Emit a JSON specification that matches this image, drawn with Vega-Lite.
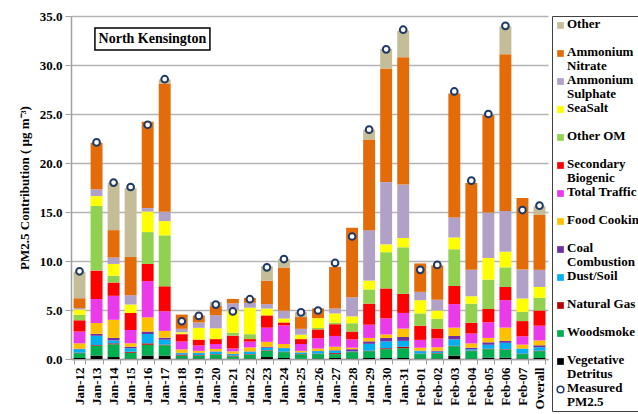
{
  "$schema": "https://vega.github.io/schema/vega-lite/v6.json",
  "width": 477,
  "height": 343,
  "autosize": "none",
  "padding": {"left": 71, "top": 16, "right": 90, "bottom": 55},
  "background": "white",
  "config": {
    "font": "Liberation Serif",
    "view": {"stroke": null},
    "axis": {"labelFont": "Liberation Serif", "titleFont": "Liberation Serif", "labelFontWeight": "bold", "titleFontWeight": "bold", "labelColor": "black", "titleColor": "black", "labelFontSize": 13, "titleFontSize": 13, "domainColor": "#A0A0A0", "tickColor": "#A0A0A0", "gridColor": "#B4B4B4", "gridWidth": 1.5}
  },
  "data": {"values": [
    {"date": "Jan-12", "Vegetative Detritus": 0.1, "Woodsmoke": 0.5, "Natural Gas": 0.05, "Dust/Soil": 0.35, "Coal Combustion": 0.05, "Food Cooking": 0.55, "Total Traffic": 1.2, "Secondary Biogenic": 1.15, "Other OM": 0.55, "SeaSalt": 0.55, "Ammonium Sulphate": 0.15, "Ammonium Nitrate": 1.0, "Other": 2.7, "Measured": 8.95},
    {"date": "Jan-13", "Vegetative Detritus": 0.35, "Woodsmoke": 1.0, "Natural Gas": 0.07, "Dust/Soil": 0.95, "Coal Combustion": 0.2, "Food Cooking": 1.1, "Total Traffic": 2.45, "Secondary Biogenic": 2.9, "Other OM": 6.6, "SeaSalt": 1.0, "Ammonium Sulphate": 0.7, "Ammonium Nitrate": 4.75, "Other": 0, "Measured": 22.1},
    {"date": "Jan-14", "Vegetative Detritus": 0.2, "Woodsmoke": 1.3, "Natural Gas": 0.1, "Dust/Soil": 0.3, "Coal Combustion": 0.25, "Food Cooking": 1.85, "Total Traffic": 2.45, "Secondary Biogenic": 1.35, "Other OM": 0.7, "SeaSalt": 1.2, "Ammonium Sulphate": 0.65, "Ammonium Nitrate": 2.8, "Other": 4.85, "Measured": 18.0},
    {"date": "Jan-15", "Vegetative Detritus": 0.05, "Woodsmoke": 0.6, "Natural Gas": 0.1, "Dust/Soil": 0.35, "Coal Combustion": 0.15, "Food Cooking": 0.35, "Total Traffic": 1.35, "Secondary Biogenic": 1.75, "Other OM": 0, "SeaSalt": 0.85, "Ammonium Sulphate": 0.95, "Ammonium Nitrate": 3.9, "Other": 7.05, "Measured": 17.55},
    {"date": "Jan-16", "Vegetative Detritus": 0.35, "Woodsmoke": 1.1, "Natural Gas": 0.15, "Dust/Soil": 0.95, "Coal Combustion": 0.25, "Food Cooking": 1.45, "Total Traffic": 3.7, "Secondary Biogenic": 1.75, "Other OM": 3.25, "SeaSalt": 2.1, "Ammonium Sulphate": 0.35, "Ammonium Nitrate": 8.8, "Other": 0, "Measured": 23.9},
    {"date": "Jan-17", "Vegetative Detritus": 0.35, "Woodsmoke": 1.05, "Natural Gas": 0.07, "Dust/Soil": 0.5, "Coal Combustion": 0.2, "Food Cooking": 0.7, "Total Traffic": 2.0, "Secondary Biogenic": 2.55, "Other OM": 5.2, "SeaSalt": 1.45, "Ammonium Sulphate": 0.95, "Ammonium Nitrate": 13.1, "Other": 0.4, "Measured": 28.55},
    {"date": "Jan-18", "Vegetative Detritus": 0.05, "Woodsmoke": 0.3, "Natural Gas": 0.1, "Dust/Soil": 0.15, "Coal Combustion": 0.03, "Food Cooking": 0.35, "Total Traffic": 0.8, "Secondary Biogenic": 0.75, "Other OM": 0.05, "SeaSalt": 0.15, "Ammonium Sulphate": 0.35, "Ammonium Nitrate": 1.45, "Other": 0, "Measured": 3.85},
    {"date": "Jan-19", "Vegetative Detritus": 0.05, "Woodsmoke": 0.3, "Natural Gas": 0.05, "Dust/Soil": 0.2, "Coal Combustion": 0.03, "Food Cooking": 0.2, "Total Traffic": 0.55, "Secondary Biogenic": 0.6, "Other OM": 0, "SeaSalt": 1.2, "Ammonium Sulphate": 0.55, "Ammonium Nitrate": 0.7, "Other": 0, "Measured": 4.4},
    {"date": "Jan-20", "Vegetative Detritus": 0.05, "Woodsmoke": 0.4, "Natural Gas": 0.05, "Dust/Soil": 0.25, "Coal Combustion": 0.03, "Food Cooking": 0.25, "Total Traffic": 0.5, "Secondary Biogenic": 0.5, "Other OM": 0, "SeaSalt": 1.1, "Ammonium Sulphate": 1.35, "Ammonium Nitrate": 0.95, "Other": 0.4, "Measured": 5.55},
    {"date": "Jan-21", "Vegetative Detritus": 0.03, "Woodsmoke": 0.25, "Natural Gas": 0.07, "Dust/Soil": 0.15, "Coal Combustion": 0.03, "Food Cooking": 0.25, "Total Traffic": 0.3, "Secondary Biogenic": 1.3, "Other OM": 0.3, "SeaSalt": 2.3, "Ammonium Sulphate": 0.7, "Ammonium Nitrate": 0.45, "Other": 0, "Measured": 4.85},
    {"date": "Jan-22", "Vegetative Detritus": 0.05, "Woodsmoke": 0.4, "Natural Gas": 0.05, "Dust/Soil": 0.25, "Coal Combustion": 0.03, "Food Cooking": 0.4, "Total Traffic": 0.6, "Secondary Biogenic": 0.25, "Other OM": 0.5, "SeaSalt": 2.7, "Ammonium Sulphate": 0.5, "Ammonium Nitrate": 0.5, "Other": 0, "Measured": 6.1},
    {"date": "Jan-23", "Vegetative Detritus": 0.2, "Woodsmoke": 0.65, "Natural Gas": 0.05, "Dust/Soil": 0.25, "Coal Combustion": 0.1, "Food Cooking": 0.5, "Total Traffic": 1.45, "Secondary Biogenic": 1.25, "Other OM": 0, "SeaSalt": 0.7, "Ammonium Sulphate": 0.45, "Ammonium Nitrate": 2.4, "Other": 1.45, "Measured": 9.35},
    {"date": "Jan-24", "Vegetative Detritus": 0.1, "Woodsmoke": 0.6, "Natural Gas": 0.05, "Dust/Soil": 0.35, "Coal Combustion": 0.03, "Food Cooking": 0.4, "Total Traffic": 1.9, "Secondary Biogenic": 0.3, "Other OM": 0, "SeaSalt": 0.4, "Ammonium Sulphate": 0.8, "Ammonium Nitrate": 4.4, "Other": 0.85, "Measured": 10.2},
    {"date": "Jan-25", "Vegetative Detritus": 0.03, "Woodsmoke": 0.45, "Natural Gas": 0.03, "Dust/Soil": 0.15, "Coal Combustion": 0.02, "Food Cooking": 0.15, "Total Traffic": 0.7, "Secondary Biogenic": 0.5, "Other OM": 0, "SeaSalt": 0.45, "Ammonium Sulphate": 0.6, "Ammonium Nitrate": 1.2, "Other": 0.5, "Measured": 4.75},
    {"date": "Jan-26", "Vegetative Detritus": 0.05, "Woodsmoke": 0.45, "Natural Gas": 0.05, "Dust/Soil": 0.25, "Coal Combustion": 0.02, "Food Cooking": 0.25, "Total Traffic": 1.05, "Secondary Biogenic": 0.9, "Other OM": 0.15, "SeaSalt": 1.0, "Ammonium Sulphate": 0, "Ammonium Nitrate": 1.0, "Other": 0, "Measured": 4.95},
    {"date": "Jan-27", "Vegetative Detritus": 0.1, "Woodsmoke": 0.4, "Natural Gas": 0.1, "Dust/Soil": 0.25, "Coal Combustion": 0.05, "Food Cooking": 0.35, "Total Traffic": 1.1, "Secondary Biogenic": 1.2, "Other OM": 0.15, "SeaSalt": 0.95, "Ammonium Sulphate": 0.5, "Ammonium Nitrate": 4.25, "Other": 0, "Measured": 9.8},
    {"date": "Jan-28", "Vegetative Detritus": 0.05, "Woodsmoke": 0.65, "Natural Gas": 0.05, "Dust/Soil": 0.05, "Coal Combustion": 0.2, "Food Cooking": 0.15, "Total Traffic": 0.85, "Secondary Biogenic": 0.8, "Other OM": 0.85, "SeaSalt": 0.7, "Ammonium Sulphate": 1.95, "Ammonium Nitrate": 7.1, "Other": 0, "Measured": 12.5},
    {"date": "Jan-29", "Vegetative Detritus": 0.1, "Woodsmoke": 0.7, "Natural Gas": 0.05, "Dust/Soil": 0.7, "Coal Combustion": 0.25, "Food Cooking": 0.35, "Total Traffic": 1.35, "Secondary Biogenic": 2.15, "Other OM": 1.45, "SeaSalt": 0.9, "Ammonium Sulphate": 5.15, "Ammonium Nitrate": 9.25, "Other": 1.0, "Measured": 23.4},
    {"date": "Jan-30", "Vegetative Detritus": 0.1, "Woodsmoke": 0.9, "Natural Gas": 0.1, "Dust/Soil": 0.7, "Coal Combustion": 0.35, "Food Cooking": 0.35, "Total Traffic": 1.65, "Secondary Biogenic": 3.05, "Other OM": 3.7, "SeaSalt": 0.8, "Ammonium Sulphate": 6.35, "Ammonium Nitrate": 11.6, "Other": 2.0, "Measured": 31.6},
    {"date": "Jan-31", "Vegetative Detritus": 0.1, "Woodsmoke": 1.0, "Natural Gas": 0.15, "Dust/Soil": 0.6, "Coal Combustion": 0.4, "Food Cooking": 0.85, "Total Traffic": 1.6, "Secondary Biogenic": 1.95, "Other OM": 4.75, "SeaSalt": 0.95, "Ammonium Sulphate": 5.45, "Ammonium Nitrate": 13.0, "Other": 2.7, "Measured": 33.6},
    {"date": "Feb-01", "Vegetative Detritus": 0.05, "Woodsmoke": 0.45, "Natural Gas": 0.05, "Dust/Soil": 0.25, "Coal Combustion": 0.05, "Food Cooking": 0.3, "Total Traffic": 0.8, "Secondary Biogenic": 1.45, "Other OM": 1.25, "SeaSalt": 1.35, "Ammonium Sulphate": 0.85, "Ammonium Nitrate": 2.9, "Other": 0, "Measured": 9.1},
    {"date": "Feb-02", "Vegetative Detritus": 0.05, "Woodsmoke": 0.5, "Natural Gas": 0.05, "Dust/Soil": 0.15, "Coal Combustion": 0.1, "Food Cooking": 0.35, "Total Traffic": 0.9, "Secondary Biogenic": 1.0, "Other OM": 1.0, "SeaSalt": 0.85, "Ammonium Sulphate": 1.1, "Ammonium Nitrate": 3.5, "Other": 0, "Measured": 9.6},
    {"date": "Feb-03", "Vegetative Detritus": 0.35, "Woodsmoke": 0.95, "Natural Gas": 0.05, "Dust/Soil": 0.65, "Coal Combustion": 0.35, "Food Cooking": 0.85, "Total Traffic": 2.4, "Secondary Biogenic": 1.85, "Other OM": 3.75, "SeaSalt": 1.2, "Ammonium Sulphate": 2.05, "Ammonium Nitrate": 12.65, "Other": 0, "Measured": 27.3},
    {"date": "Feb-04", "Vegetative Detritus": 0.05, "Woodsmoke": 0.75, "Natural Gas": 0.05, "Dust/Soil": 0.15, "Coal Combustion": 0.15, "Food Cooking": 0.45, "Total Traffic": 1.0, "Secondary Biogenic": 1.1, "Other OM": 1.95, "SeaSalt": 0.75, "Ammonium Sulphate": 2.7, "Ammonium Nitrate": 8.85, "Other": 0, "Measured": 18.2},
    {"date": "Feb-05", "Vegetative Detritus": 0.15, "Woodsmoke": 0.85, "Natural Gas": 0.05, "Dust/Soil": 0.4, "Coal Combustion": 0.25, "Food Cooking": 0.45, "Total Traffic": 1.6, "Secondary Biogenic": 1.35, "Other OM": 3.0, "SeaSalt": 2.2, "Ammonium Sulphate": 4.65, "Ammonium Nitrate": 9.95, "Other": 0, "Measured": 25.0},
    {"date": "Feb-06", "Vegetative Detritus": 0.15, "Woodsmoke": 0.8, "Natural Gas": 0.05, "Dust/Soil": 0.65, "Coal Combustion": 0.2, "Food Cooking": 1.35, "Total Traffic": 2.8, "Secondary Biogenic": 1.35, "Other OM": 2.0, "SeaSalt": 1.6, "Ammonium Sulphate": 4.15, "Ammonium Nitrate": 16.0, "Other": 2.85, "Measured": 34.0},
    {"date": "Feb-07", "Vegetative Detritus": 0.05, "Woodsmoke": 0.45, "Natural Gas": 0.05, "Dust/Soil": 0.5, "Coal Combustion": 0.02, "Food Cooking": 0.4, "Total Traffic": 0.85, "Secondary Biogenic": 1.55, "Other OM": 0.95, "SeaSalt": 1.35, "Ammonium Sulphate": 2.95, "Ammonium Nitrate": 7.3, "Other": 0, "Measured": 15.2},
    {"date": "Overall", "Vegetative Detritus": 0.1, "Woodsmoke": 0.7, "Natural Gas": 0.05, "Dust/Soil": 0.35, "Coal Combustion": 0.2, "Food Cooking": 0.5, "Total Traffic": 1.5, "Secondary Biogenic": 1.55, "Other OM": 1.3, "SeaSalt": 1.1, "Ammonium Sulphate": 1.75, "Ammonium Nitrate": 5.6, "Other": 0.9, "Measured": 15.65}
  ]},
  "encoding": {
    "x": {"field": "date", "type": "nominal", "sort": null, "scale": {"paddingInner": 0.3, "paddingOuter": 0.15},
      "axis": {"title": null, "labelAngle": -90, "tickBand": "extent", "tickSize": 5, "labelPadding": 3, "domainWidth": 1.5}}
  },
  "layer": [
    {
      "mark": {"type": "bar"},
      "transform": [
        {"fold": ["Vegetative Detritus", "Woodsmoke", "Natural Gas", "Dust/Soil", "Coal Combustion", "Food Cooking", "Total Traffic", "Secondary Biogenic", "Other OM", "SeaSalt", "Ammonium Sulphate", "Ammonium Nitrate", "Other"], "as": ["source", "value"]},
        {"calculate": "indexof(['Vegetative Detritus','Woodsmoke','Natural Gas','Dust/Soil','Coal Combustion','Food Cooking','Total Traffic','Secondary Biogenic','Other OM','SeaSalt','Ammonium Sulphate','Ammonium Nitrate','Other'], datum.source)", "as": "stackOrder"}
      ],
      "encoding": {
        "y": {"field": "value", "type": "quantitative", "stack": "zero",
          "scale": {"domain": [0, 35], "nice": false},
          "axis": {"values": [0, 5, 10, 15, 20, 25, 30, 35], "format": ".1f", "title": "PM2.5 Contribution ( µg m⁻³)", "tickSize": 6, "labelPadding": 3, "titlePadding": 8, "domainWidth": 1.5}},
        "order": {"field": "stackOrder", "type": "quantitative", "sort": "ascending"},
        "color": {"field": "source", "type": "nominal",
          "scale": {
            "domain": ["Other", "Ammonium Nitrate", "Ammonium Sulphate", "SeaSalt", "Other OM", "Secondary Biogenic", "Total Traffic", "Food Cooking", "Coal Combustion", "Dust/Soil", "Natural Gas", "Woodsmoke", "Vegetative Detritus", "Measured PM2.5"],
            "range": ["#C4BD97", "#E36C09", "#B2A1C7", "#FFFF00", "#92D050", "#FF0000", "#EA3AEA", "#FFC000", "#7030A0", "#00B0F0", "#C00000", "#00B050", "#000000", "#FFFFFF"]
          },
          "legend": {
            "title": null, "orient": "none", "legendX": 481, "legendY": 0,
            "strokeColor": "#404040", "padding": 2, "fillColor": "white",
            "symbolType": "square", "symbolSize": 45, "symbolStrokeWidth": 0,
            "labelFont": "Liberation Serif", "labelFontWeight": "bold", "labelFontSize": 13, "labelColor": "black",
            "labelLimit": 300, "labelOffset": 0, "rowPadding": 1,
            "labelExpr": "datum.label == 'Ammonium Nitrate' ? ['Ammonium', 'Nitrate'] : datum.label == 'Ammonium Sulphate' ? ['Ammonium', 'Sulphate'] : datum.label == 'Secondary Biogenic' ? ['Secondary', 'Biogenic'] : datum.label == 'Coal Combustion' ? ['Coal', 'Combustion'] : datum.label == 'Vegetative Detritus' ? ['Vegetative', 'Detritus'] : datum.label == 'Measured PM2.5' ? ['Measured', 'PM2.5'] : [datum.label, '']",
            "encode": {
              "symbols": {"update": {
                "y": {"value": 7.5},
                "shape": {"signal": "datum.value === 'Measured PM2.5' ? 'circle' : 'square'"},
                "stroke": {"signal": "datum.value === 'Measured PM2.5' ? '#1F3864' : 'transparent'"},
                "strokeWidth": {"signal": "datum.value === 'Measured PM2.5' ? 1.5 : 0"}
              }},
              "labels": {"update": {"y": {"value": 0}, "baseline": {"value": "top"}, "lineHeight": {"value": 14}}}
            }
          }
        }
      }
    },
    {
      "mark": {"type": "point", "shape": "circle", "filled": false, "fill": "white", "fillOpacity": 1, "stroke": "#1F3864", "strokeWidth": 2, "size": 45, "opacity": 1},
      "encoding": {"y": {"field": "Measured", "type": "quantitative"}}
    },
    {
      "data": {"values": [{"label": "North Kensington"}]},
      "mark": {"type": "point", "shape": "M-1,-0.1913L1,-0.1913L1,0.1913L-1,0.1913Z", "size": 13225, "filled": false, "fill": "white", "fillOpacity": 1, "stroke": "black", "strokeWidth": 1.5, "opacity": 1},
      "encoding": {"x": {"datum": "Jan-16", "bandPosition": 0.9}, "y": {"datum": 32.65}}
    },
    {
      "data": {"values": [{"label": "North Kensington"}]},
      "mark": {"type": "text", "font": "Liberation Serif", "fontWeight": "bold", "fontSize": 14, "align": "center", "baseline": "middle", "color": "black"},
      "encoding": {"x": {"datum": "Jan-16", "bandPosition": 0.9}, "y": {"datum": 32.65}, "text": {"field": "label"}}
    }
  ]
}
